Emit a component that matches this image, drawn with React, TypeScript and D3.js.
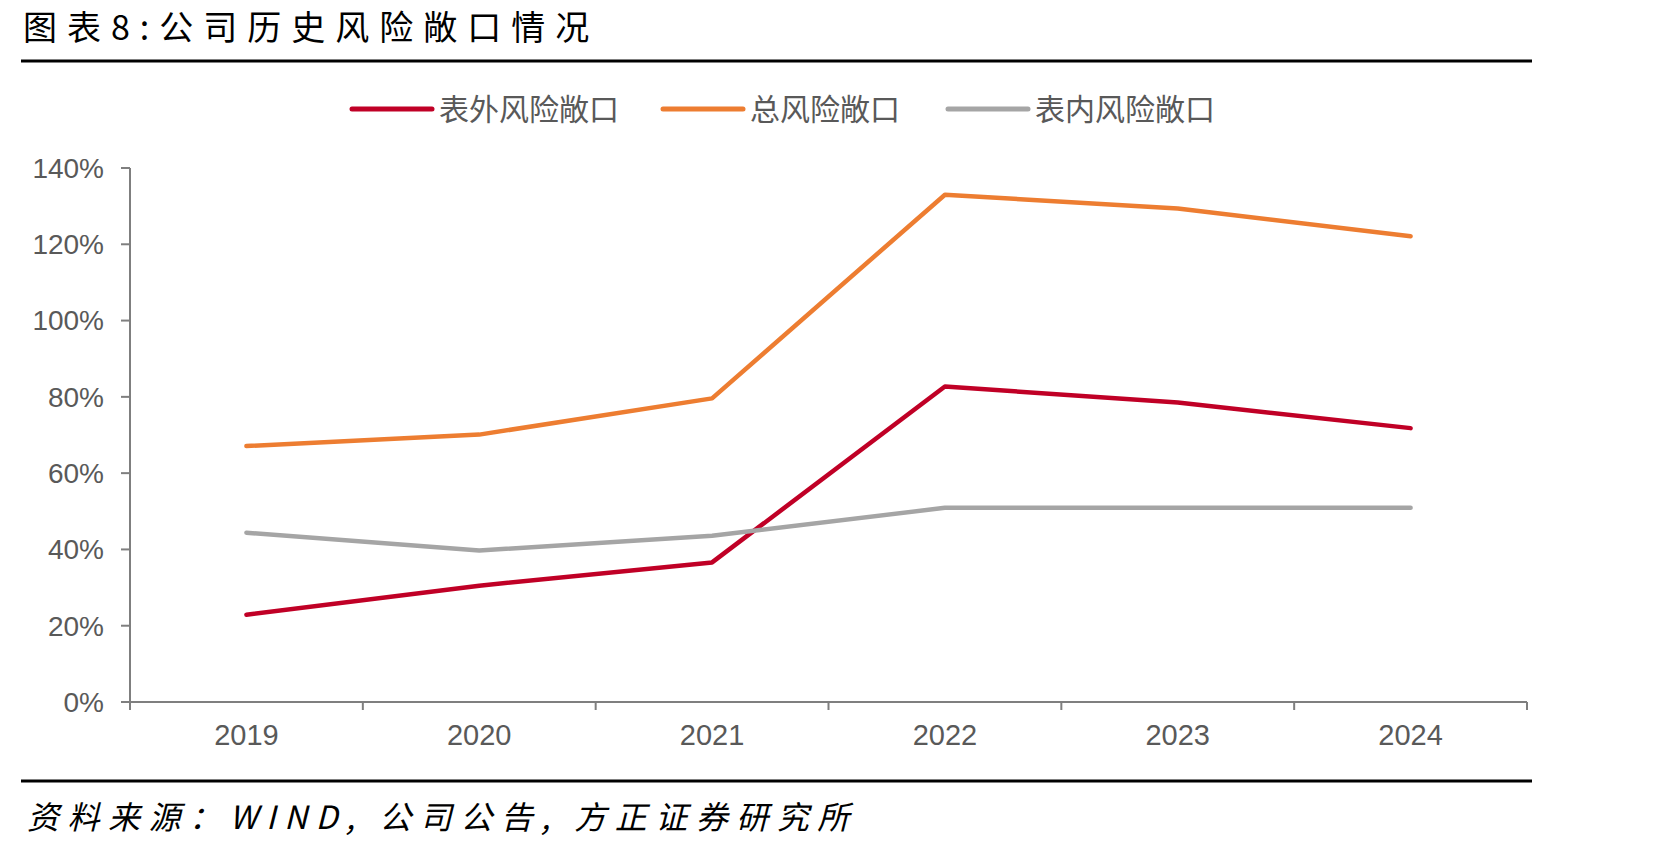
import React from 'react'
import * as d3 from 'd3'

const years = ['2019', '2020', '2021', '2022', '2023', '2024']
const offBalance = [22.9, 30.5, 36.6, 82.7, 78.5, 71.8]
const total = [67.1, 70.1, 79.6, 133.0, 129.4, 122.1]
const onBalance = [44.4, 39.7, 43.6, 50.9, 50.9, 50.9]
const yTicks = [0, 20, 40, 60, 80, 100, 120, 140]

const series = [
	{ name: '表外风险敞口', values: offBalance, color: '#C00026' },
	{ name: '总风险敞口', values: total, color: '#ED7D31' },
	{ name: '表内风险敞口', values: onBalance, color: '#A5A5A5' },
]

const W = 1671
const H = 850
const left = 130
const right = 1527
const top = 168
const bottom = 702
const axisColor = '#7F7F7F'
const textColor = '#595959'
const font = '"Liberation Sans", Arial, "Noto Sans CJK SC", sans-serif'
const cjk = '"Noto Sans CJK SC", sans-serif'

export default function App() {
	const x = d3.scaleBand<string>().domain(years).range([left, right])
	const y = d3.scaleLinear().domain([0, 140]).range([bottom, top])
	const line = d3
		.line<number>()
		.x((_, i) => x(years[i])! + x.bandwidth() / 2)
		.y(d => y(d))

	const boundaries = [...years.map(yr => x(yr)!), right]
	const legendX = [352, 663, 948]

	return (
		<svg
			width={W}
			height={H}
			style={{ position: 'fixed', left: 0, top: 0, background: '#fff' }}
		>
			<text x={23} y={40} fontFamily={cjk} fontSize={34} letterSpacing={10} fill="#000">
				图表8:公司历史风险敞口情况
			</text>
			<line x1={21} x2={1532} y1={61} y2={61} stroke="#000" strokeWidth={3} />

			{series.map((s, i) => (
				<g key={s.name}>
					<line
						x1={legendX[i]}
						x2={legendX[i] + 80}
						y1={109}
						y2={109}
						stroke={s.color}
						strokeWidth={5}
						strokeLinecap="round"
					/>
					<text
						x={legendX[i] + 87}
						y={120}
						fontFamily={cjk}
						fontSize={30}
						fill={textColor}
					>
						{s.name}
					</text>
				</g>
			))}

			<line x1={left} x2={left} y1={top} y2={bottom} stroke={axisColor} strokeWidth={2} />
			{yTicks.map(t => (
				<g key={t}>
					<line x1={left - 9} x2={left} y1={y(t)} y2={y(t)} stroke={axisColor} strokeWidth={2} />
					<text
						x={left - 26}
						y={y(t)}
						dy="0.35em"
						textAnchor="end"
						fontFamily={font}
						fontSize={28}
						fill={textColor}
					>
						{t}%
					</text>
				</g>
			))}

			<line x1={left} x2={right} y1={bottom} y2={bottom} stroke={axisColor} strokeWidth={2} />
			{boundaries.map((b, i) => (
				<line key={i} x1={b} x2={b} y1={bottom} y2={bottom + 8} stroke={axisColor} strokeWidth={2} />
			))}
			{years.map(yr => (
				<text
					key={yr}
					x={x(yr)! + x.bandwidth() / 2}
					y={745}
					textAnchor="middle"
					fontFamily={font}
					fontSize={29}
					fill={textColor}
				>
					{yr}
				</text>
			))}

			{series.map(s => (
				<path
					key={s.name}
					d={line(s.values)!}
					fill="none"
					stroke={s.color}
					strokeWidth={4.5}
					strokeLinejoin="round"
					strokeLinecap="round"
				/>
			))}

			<line x1={21} x2={1532} y1={781} y2={781} stroke="#000" strokeWidth={3} />
			<text
				x={27}
				y={829}
				fontFamily={cjk}
				fontSize={32}
				fontStyle="italic"
				letterSpacing={8.5}
				fill="#000"
			>
				资料来源：WIND, 公司公告, 方正证券研究所
			</text>
		</svg>
	)
}
